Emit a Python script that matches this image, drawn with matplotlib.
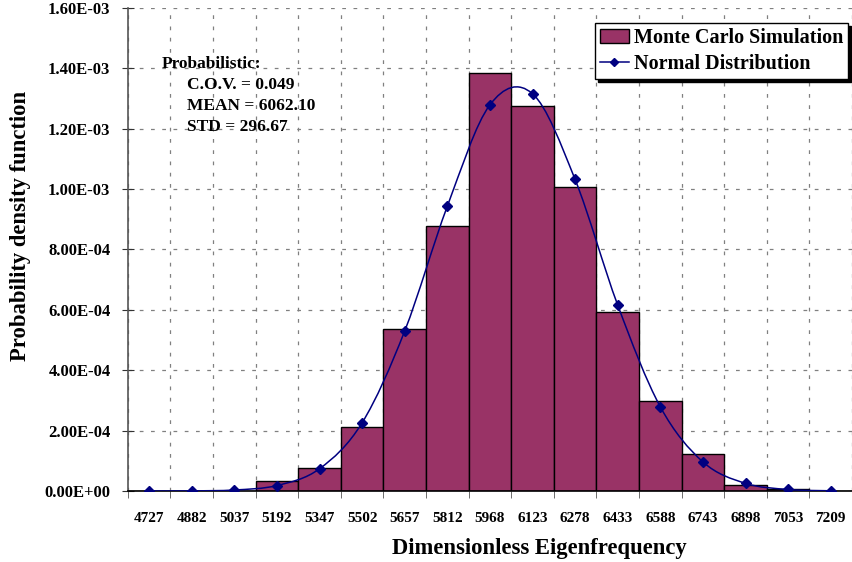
import numpy as np
import matplotlib
matplotlib.use("Agg")
import matplotlib.pyplot as plt
from matplotlib.path import Path
from matplotlib.patches import PathPatch, Patch
from matplotlib.lines import Line2D
from matplotlib.ticker import FuncFormatter, MultipleLocator

plt.rcParams['font.family'] = ['Liberation Serif', 'DejaVu Serif']
plt.rcParams['font.weight'] = 'bold'

# bin centres of the simulated eigenfrequency
freq_labels = ["4727", "4882", "5037", "5192", "5347", "5502", "5657", "5812",
               "5968", "6123", "6278", "6433", "6588", "6743", "6898", "7053", "7209"]
# Monte Carlo histogram (probability density)
mc_density = [0.0, 0.0, 0.0, 3.3e-5, 7.7e-5, 2.13e-4, 5.37e-4, 8.78e-4,
              1.386e-3, 1.275e-3, 1.006e-3, 5.93e-4, 2.98e-4, 1.23e-4, 1.9e-5, 8e-6, 0.0]
# fitted normal distribution at the same bins
normal_density = [5.4e-8, 4.9e-7, 3.4e-6, 1.82e-5, 7.37e-5, 2.26e-4, 5.30e-4, 9.43e-4,
                  1.279e-3, 1.316e-3, 1.032e-3, 6.16e-4, 2.79e-4, 9.65e-5, 2.54e-5, 5.1e-6, 7.7e-7]

bar_color = '#993366'
line_color = '#000080'
grid_kw = dict(color='#808080', linestyle=(0, (3, 6)), linewidth=0.9)


def smooth_path(xs, ys):
    # Bezier spline through the points, like a spreadsheet "smoothed line"
    pts = np.column_stack([xs, ys])
    n = len(pts)
    verts = [pts[0]]
    codes = [Path.MOVETO]
    for i in range(n - 1):
        p0 = pts[max(i - 1, 0)]
        p1 = pts[i]
        p2 = pts[i + 1]
        p3 = pts[min(i + 2, n - 1)]
        c1 = p1 + (p2 - p0) / 6.0
        c2 = p2 - (p3 - p1) / 6.0
        verts += [c1, c2, p2]
        codes += [Path.CURVE4] * 3
    return Path(verts, codes)


fig = plt.figure(figsize=(8.52, 5.62), dpi=100)
ax = fig.add_axes([0.150, 0.1263, 0.850, 0.8595])

x = np.arange(len(freq_labels))
ax.bar(x, mc_density, width=1.0, color=bar_color, edgecolor='black', linewidth=1.0, zorder=2)

ax.add_patch(PathPatch(smooth_path(x, normal_density), facecolor='none',
                       edgecolor=line_color, linewidth=1.1, zorder=3))
ax.plot(x, normal_density, linestyle='none', marker='D', markersize=5,
        color=line_color, zorder=4)

ax.set_xlim(-0.5, len(freq_labels) - 0.5)
ax.set_ylim(0, 1.6e-3)

ax.set_xticks(x)
ax.set_xticklabels(freq_labels, fontsize=11, fontweight='bold')
ax.xaxis.set_minor_locator(MultipleLocator(1.0, offset=0.5))
ax.tick_params(axis='x', which='major', length=0, pad=15)
ax.tick_params(axis='x', which='minor', length=5, direction='out', color='#555555')
ax.xaxis.grid(True, which='minor', **grid_kw, zorder=0)

ax.yaxis.set_major_locator(MultipleLocator(2e-4))
ax.yaxis.set_major_formatter(FuncFormatter(
    lambda v, p: "0.00E+00" if v == 0 else "{:.2E}".format(v)))
ax.tick_params(axis='y', which='major', length=9, direction='inout', color='#333333',
               labelsize=12, pad=8)
for lab in ax.get_yticklabels():
    lab.set_fontweight('bold')
ax.yaxis.grid(True, which='major', **grid_kw, zorder=0)
ax.set_axisbelow(True)

ax.spines['top'].set_visible(False)
ax.spines['right'].set_visible(False)
ax.spines['left'].set_color('#555555')
ax.spines['left'].set_linewidth(1.2)
ax.spines['bottom'].set_color('black')
ax.spines['bottom'].set_linewidth(1.2)

ax.set_xlabel("Dimensionless Eigenfrequency", fontsize=16.3, fontweight='bold')
ax.set_ylabel("Probability density function", fontsize=16.3, fontweight='bold')
ax.xaxis.set_label_coords(0.569, -0.098)
ax.yaxis.set_label_coords(-0.133, 0.549)

ax.text(0.047, 0.884, "Probabilistic:", transform=ax.transAxes, fontsize=12.5,
        fontweight='bold', va='center', ha='left')
for i, line in enumerate(["C.O.V. = 0.049", "MEAN = 6062.10", "STD = 296.67"]):
    ax.text(0.082, 0.840 - i * 0.0435, line, transform=ax.transAxes, fontsize=12.5,
            fontweight='bold', va='center', ha='left')

handles = [Patch(facecolor=bar_color, edgecolor='black', linewidth=1.0),
           Line2D([], [], color=line_color, marker='D', markersize=4.5, linewidth=1.1)]
leg = ax.legend(handles, ["Monte Carlo Simulation", "Normal Distribution"],
                loc='upper right', bbox_to_anchor=(0.9945, 0.969), fancybox=False,
                shadow={'color': 'black', 'alpha': 1.0}, framealpha=1.0,
                edgecolor='black', prop={'size': 14.5, 'weight': 'bold'},
                handlelength=1.4, handleheight=0.7, handletextpad=0.25,
                borderpad=0.25, labelspacing=0.3, borderaxespad=0.0)
leg.get_frame().set_linewidth(1.0)

fig.savefig("out.png", dpi=100)
